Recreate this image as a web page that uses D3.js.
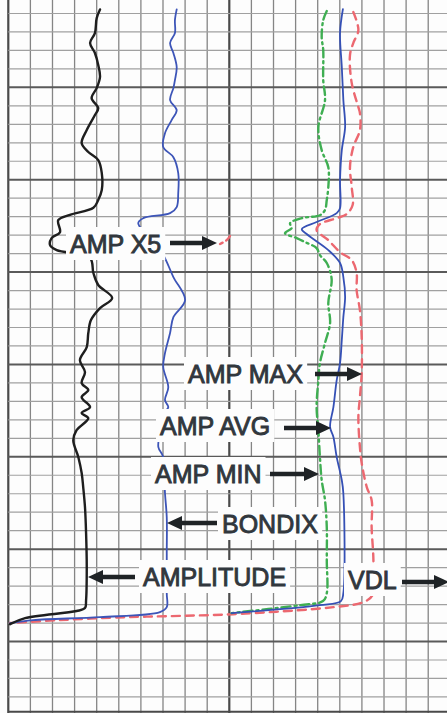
<!DOCTYPE html>
<html>
<head>
<meta charset="utf-8">
<script src="https://cdn.jsdelivr.net/npm/d3@7/dist/d3.min.js"></script>
<style>
  html, body { margin: 0; padding: 0; background: #fdfdfd; }
  svg { display: block; }
</style>
</head>
<body>
<div id="chart"></div>
<script>
// ---- DATA: [depth (grid rows), reading (grid divisions)] ----
const amplitude = [[-0.22,4.15],[0.25,4.0],[1.06,3.92],[1.6,3.70],[2.14,3.92],[2.79,4.07],[3.44,4.15],[4.04,4.0],[4.58,3.77],[5.12,4.07],[5.5,3.92],[6.31,3.55],[7.02,3.32],[7.5,3.62],[7.94,4.07],[8.64,4.23],[9.56,4.23],[10.1,4.07],[10.52,3.85],[10.9,2.79],[11.19,2.26],[11.84,2.34],[12.16,1.96],[12.54,1.89],[12.81,2.19],[13.24,3.70],[14.05,3.85],[14.7,4.07],[15.4,4.7],[15.95,4.15],[16.6,3.74],[17.3,3.62],[18.06,3.55],[18.77,3.24],[19.41,3.47],[20.01,3.32],[20.39,3.62],[20.77,3.32],[21.31,3.70],[21.63,3.32],[21.91,3.62],[22.56,3.09],[23.1,2.94],[24.02,3.17],[24.88,3.32],[25.64,3.39],[26.72,3.47],[28.13,3.52],[29.97,3.55],[31.76,3.52],[32.19,3.47],[32.35,3.09],[32.73,0.76],[33.06,0.08]];

const bondix = [[-0.22,7.62],[0.36,7.54],[1.06,7.54],[1.6,7.32],[2.14,7.47],[2.9,7.62],[3.61,7.54],[4.04,7.47],[4.69,7.32],[5.23,7.62],[5.77,7.39],[6.48,7.09],[7.23,7.01],[7.78,7.47],[8.64,7.69],[9.72,7.69],[10.48,7.62],[10.81,7.32],[11.08,6.11],[11.35,5.88],[12.92,6.94],[14.27,7.47],[15.52,8.0],[16.44,7.47],[17.3,7.32],[18.39,7.09],[19.14,7.01],[20.23,7.24],[20.93,7.09],[21.31,7.24],[21.58,7.09],[22.72,6.86],[23.48,6.79],[24.02,7.01],[25.97,7.09],[27.27,7.17],[29.22,7.17],[31.39,7.17],[32.14,7.17],[32.41,6.86],[32.68,4.15],[32.84,1.13],[33.0,0.08]];

const ampAvg = [[-0.24,15.14],[1.06,15.01],[2.9,15.09],[4.69,15.16],[6.15,15.24],[7.4,15.09],[9.02,15.01],[10.54,15.01],[10.81,14.86],[11.29,13.95],[11.67,13.28],[11.94,13.5],[12.21,13.8],[12.81,14.48],[13.51,15.01],[14.27,15.16],[15.35,15.24],[16.44,15.16],[17.68,15.09],[18.93,15.01],[19.85,14.86],[21.31,14.71],[22.39,14.56],[22.93,14.71],[24.02,14.86],[25.27,15.09],[25.97,15.16],[31.38,15.16],[31.81,15.05],[32.03,14.1],[32.46,10.1]];

const ampMin = [[-0.13,14.41],[0.36,14.25],[1.28,14.18],[1.98,14.25],[3.61,14.25],[4.69,14.33],[6.15,14.03],[7.4,14.18],[8.32,14.48],[9.4,14.48],[10.1,14.41],[10.64,14.33],[10.92,14.1],[11.08,13.28],[11.35,12.75],[11.62,12.82],[11.89,12.52],[12.16,13.05],[12.38,13.43],[12.7,13.95],[13.08,14.1],[13.51,14.41],[14.38,14.63],[15.67,14.48],[16.76,14.56],[17.84,14.33],[18.93,14.1],[19.85,14.03],[21.31,13.95],[22.56,14.03],[24.02,14.1],[25.26,14.18],[26.35,14.33],[27.81,14.41],[29.6,14.41],[31.38,14.41],[31.81,14.24],[32.03,13.2],[32.46,10.1]];

const ampMax = [[-0.08,15.61],[0.9,15.84],[1.6,15.61],[2.25,15.46],[3.77,15.54],[5.07,15.84],[5.39,15.91],[6.31,15.91],[7.23,15.61],[8.32,15.46],[9.4,15.54],[10.37,15.58],[10.86,15.31],[11.08,14.86],[11.4,14.1],[11.73,13.95],[12.27,14.48],[12.92,15.01],[13.35,15.54],[14.05,15.76],[14.97,15.76],[16.06,15.91],[17.52,15.99],[19.47,15.99],[20.77,15.91],[21.85,15.84],[23.48,15.91],[24.34,15.99],[25.64,16.22],[26.35,16.44],[27.81,16.44],[29.6,16.52],[31.49,16.48],[31.87,16.06],[32.14,14.71],[32.52,10.18],[32.63,7.17],[32.68,5.36],[32.84,2.34],[33.0,0.08]];

const ampX5 = [[12.05,10.03],[12.27,9.88],[12.48,9.58]];

const labels = ["AMP X5","AMP MAX","AMP AVG","AMP MIN","BONDIX","AMPLITUDE","VDL"];

// ---- LAYOUT ----
const W = 447, H = 713;
const x = d3.scaleLinear().domain([-0.375, 19.85]).range([0, W]);
const y = d3.scaleLinear().domain([-0.73, 37.87]).range([0, H]);

const svg = d3.select("#chart").append("svg").attr("width", W).attr("height", H);
svg.append("rect").attr("width", W).attr("height", H).attr("fill", "#fdfdfd");

// grid
const gGrid = svg.append("g");
const cols = d3.range(0, 21);
const rows = d3.range(0, 38);
gGrid.selectAll("line.v").data(cols).join("line")
  .attr("x1", d => x(d)).attr("x2", d => x(d))
  .attr("y1", 0).attr("y2", H)
  .attr("stroke", d => d % 10 === 0 ? "#4a4a4a" : "#858585")
  .attr("stroke-width", d => d % 10 === 0 ? 2.2 : 1.3);
gGrid.selectAll("line.h").data(rows).join("line")
  .attr("x1", x(0)).attr("x2", W)
  .attr("y1", d => y(d)).attr("y2", d => y(d))
  .attr("stroke", d => d % 5 === 4 ? "#5a5a5a" : "#a0a0a0")
  .attr("stroke-width", d => d % 5 === 4 ? 2 : 1.2);
gGrid.append("line").attr("x1", x(0)).attr("x2", W)
  .attr("y1", y(37.8)).attr("y2", y(37.8)).attr("stroke", "#4a4a4a").attr("stroke-width", 2);

// curves
const line = d3.line().x(d => x(d[1])).y(d => y(d[0])).curve(d3.curveCatmullRom.alpha(0.5));
const series = [
  {data: ampMax, color: "#ec6870", w: 2.4, dash: "8,6"},
  {data: ampX5, color: "#ec6870", w: 2.4, dash: "6,4"},
  {data: ampMin, color: "#3fae52", w: 2.4, dash: "9,4,2,4"},
  {data: ampAvg, color: "#3550b5", w: 1.8, dash: null},
  {data: bondix, color: "#3d55b8", w: 1.8, dash: null},
  {data: amplitude, color: "#1e1e1e", w: 2.4, dash: null}
];
svg.append("g").selectAll("path").data(series).join("path")
  .attr("d", d => line(d.data))
  .attr("fill", "none")
  .attr("stroke", d => d.color)
  .attr("stroke-width", d => d.w)
  .attr("stroke-dasharray", d => d.dash)
  .attr("stroke-linejoin", "round")
  .attr("stroke-linecap", "round");

// annotations (pixel layout)
const ann = [
  {t: labels[0], tx: 70,  by: 253, a: [170, 217, 243]},
  {t: labels[1], tx: 188, by: 383, a: [315, 362, 374]},
  {t: labels[2], tx: 160, by: 435, a: [284, 331, 428]},
  {t: labels[3], tx: 155, by: 483, a: [270, 319, 474]},
  {t: labels[4], tx: 222, by: 533, a: [217, 167, 523]},
  {t: labels[5], tx: 143, by: 586, a: [135, 88, 577]},
  {t: labels[6], tx: 348, by: 589, a: [402, 449, 582]}
];
const gA = svg.append("g");
ann.forEach(d => {
  const g = gA.append("g");
  const txt = g.append("text")
    .attr("x", d.tx).attr("y", d.by)
    .attr("font-family", "'Liberation Sans', Arial, sans-serif")
    .attr("font-size", 25)
    .attr("fill", "#31373d")
    .attr("stroke", "#31373d").attr("stroke-width", 0.9)
    .text(d.t);
  const bb = txt.node().getBBox();
  g.insert("rect", "text")
    .attr("x", bb.x - 4).attr("y", d.by - 26)
    .attr("width", bb.width + 8).attr("height", 33)
    .attr("fill", "#fdfdfd");
  const [x0, x1, yy] = d.a;
  const dir = Math.sign(x1 - x0);
  const headLen = 15, headH = 7;
  g.append("line")
    .attr("x1", x0).attr("x2", x1 - dir * headLen + dir * 2)
    .attr("y1", yy).attr("y2", yy)
    .attr("stroke", "#1f2326").attr("stroke-width", 4.5);
  g.append("path")
    .attr("d", `M${x1},${yy} L${x1 - dir * headLen},${yy - headH} L${x1 - dir * headLen},${yy + headH} Z`)
    .attr("fill", "#1f2326");
});
</script>
</body>
</html>
